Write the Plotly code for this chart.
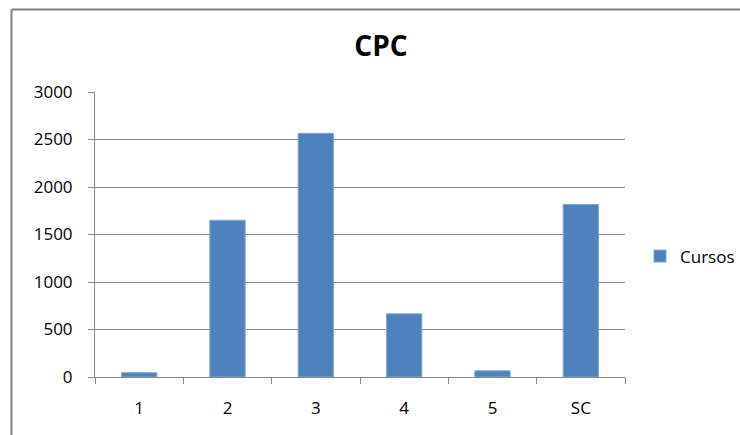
import plotly.graph_objects as go

# Chart data
categories = ["1", "2", "3", "4", "5", "SC"]
cursos = [45, 1650, 2565, 665, 65, 1815]
y_ticks = [0, 500, 1000, 1500, 2000, 2500, 3000]

W, H = 740, 435
M_L, M_R, M_T, M_B = 95, 115, 92, 58
plot_w = W - M_L - M_R
plot_h = H - M_T - M_B

FONT = "Open Sans"
GRID = "#898989"

fig = go.Figure()
fig.add_trace(go.Bar(
    x=categories,
    y=cursos,
    name="Cursos",
    marker=dict(color="#4F81BD", line=dict(color="#7EA6D6", width=1)),
    width=0.4,
))

# outer chart border (left and top edges visible)
bx = (11.5 - M_L) / plot_w
by = 1 + (M_T - 9.5) / plot_h
fig.add_shape(type="line", xref="paper", yref="paper", x0=bx, x1=bx, y0=-1, y1=by,
              line=dict(color="#808080", width=2))
fig.add_shape(type="line", xref="paper", yref="paper", x0=bx, x1=2, y0=by, y1=by,
              line=dict(color="#808080", width=2))

fig.update_layout(
    width=W, height=H,
    margin=dict(l=M_L, r=M_R, t=M_T, b=M_B, autoexpand=False),
    paper_bgcolor="white", plot_bgcolor="white",
    font=dict(family=FONT, size=17, color="#000000"),
    title=dict(text="<b>CPC</b>", x=(381 / W), xanchor="center",
               y=1 - 46 / H, yanchor="middle", font=dict(family=FONT, size=28)),
    showlegend=True,
    legend=dict(x=640 / W, xref="container", xanchor="left",
                y=1 - 256.5 / H, yref="container", yanchor="middle",
                font=dict(family=FONT, size=17),
                itemwidth=30, bgcolor="rgba(0,0,0,0)"),
    bargap=0.6,
)

fig.update_xaxes(
    type="category", showline=True, linecolor=GRID, linewidth=1,
    ticks="outside", tickson="boundaries", ticklen=6, tickcolor=GRID,
    showgrid=False, ticklabelstandoff=16,
)
fig.update_yaxes(
    range=[0, 3000], tickvals=y_ticks, showline=True, linecolor=GRID, linewidth=1,
    ticks="outside", ticklen=6, tickcolor=GRID, showgrid=True, gridcolor=GRID,
    gridwidth=1, zeroline=False, ticklabelstandoff=12,
)

fig.write_html("out.html")
